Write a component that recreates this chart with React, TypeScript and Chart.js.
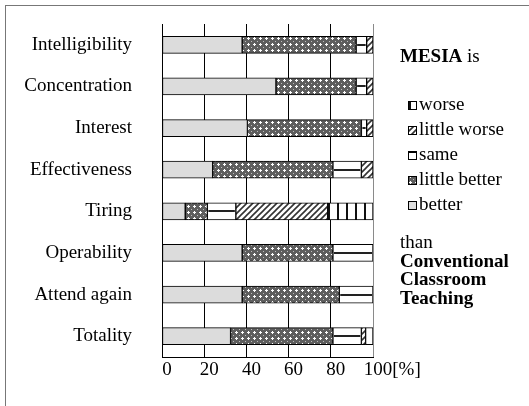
import React, { useEffect, useRef } from 'react';
import { Chart, registerables } from 'chart.js';

Chart.register(...registerables);

const categories = ['Intelligibility', 'Concentration', 'Interest', 'Effectiveness', 'Tiring', 'Operability', 'Attend again', 'Totality'];
const better = [38, 54, 40.5, 24, 11, 38, 38, 32.5];
const littleBetter = [54, 38, 54, 57, 10.5, 43, 46, 48.5];
const same = [5, 5, 2.5, 13.5, 13.5, 19, 16, 13.5];
const littleWorse = [3, 3, 3, 5.5, 43.5, 0, 0, 2];
const worse = [0, 0, 0, 0, 21.5, 0, 0, 3.5];
const seriesNames = ['better', 'little better', 'same', 'little worse', 'worse'];
const xTickValues = [0, 20, 40, 60, 80, 100];
const xUnit = '[%]';
const titleBold = 'MESIA';
const titleRest = ' is';
const footerNormal = 'than';
const footerBold = ['Conventional', 'Classroom', 'Teaching'];

const FONT = '"Liberation Serif", "Times New Roman", Times, serif';

function tile(w: number, h: number, draw: (c: CanvasRenderingContext2D) => void): CanvasPattern {
  const cv = document.createElement('canvas');
  cv.width = w;
  cv.height = h;
  const c = cv.getContext('2d')!;
  draw(c);
  return c.createPattern(cv, 'repeat')!;
}

export default function App() {
  const ref = useRef<HTMLCanvasElement>(null);

  useEffect(() => {
    const canvas = ref.current!;
    const pCheck = tile(6, 6, (c) => {
      c.fillStyle = '#5e5e5e';
      c.fillRect(0, 0, 6, 6);
      c.fillStyle = '#ffffff';
      c.fillRect(1, 2, 3, 1);
      c.fillRect(2, 1, 1, 3);
      c.fillStyle = '#bdbdbd';
      c.fillRect(5, 5, 1, 1);
    });
    const pDiag = tile(6, 6, (c) => {
      c.fillStyle = '#ffffff';
      c.fillRect(0, 0, 6, 6);
      c.strokeStyle = '#333333';
      c.lineWidth = 1.6;
      c.beginPath();
      c.moveTo(-1, 7);
      c.lineTo(7, -1);
      c.moveTo(-4, 4);
      c.lineTo(4, -4);
      c.moveTo(2, 10);
      c.lineTo(10, 2);
      c.stroke();
    });
    const pVert = tile(9, 9, (c) => {
      c.fillStyle = '#ffffff';
      c.fillRect(0, 0, 9, 9);
      c.fillStyle = '#111111';
      c.fillRect(4, 0, 2, 9);
    });
    const fills: (string | CanvasPattern)[] = ['#dcdcdc', pCheck, '#ffffff', pDiag, pVert];
    const values = [better, littleBetter, same, littleWorse, worse];

    const sameLine = {
      id: 'sameLine',
      afterDatasetsDraw(chart: any) {
        const ctx = chart.ctx;
        const meta = chart.getDatasetMeta(2);
        ctx.save();
        ctx.strokeStyle = '#222';
        ctx.lineWidth = 2;
        meta.data.forEach((bar: any) => {
          const p = bar.getProps(['x', 'y', 'base'], true);
          if (Math.abs(p.x - p.base) < 1) return;
          ctx.beginPath();
          ctx.moveTo(Math.min(p.x, p.base) + 1, Math.round(p.y));
          ctx.lineTo(Math.max(p.x, p.base) - 1, Math.round(p.y));
          ctx.stroke();
        });
        ctx.restore();
      },
    };

    const sideLegend = {
      id: 'sideLegend',
      afterDraw(chart: any) {
        const ctx = chart.ctx;
        const ca = chart.chartArea;
        ctx.save();
        ctx.fillStyle = '#000';
        ctx.textBaseline = 'middle';
        ctx.textAlign = 'left';
        const tx = ca.right + 27;
        ctx.font = `bold 19px ${FONT}`;
        ctx.fillText(titleBold, tx, ca.top + 33);
        const w = ctx.measureText(titleBold).width;
        ctx.font = `19px ${FONT}`;
        ctx.fillText(titleRest, tx + w, ca.top + 33);
        for (let i = 0; i < seriesNames.length; i++) {
          const di = seriesNames.length - 1 - i;
          const y = ca.top + 81 + i * 25;
          const bx = ca.right + 35;
          ctx.fillStyle = fills[di] as any;
          ctx.fillRect(bx, y - 4, 9, 9);
          ctx.strokeStyle = '#000';
          ctx.lineWidth = 1;
          ctx.strokeRect(bx + 0.5, y - 3.5, 8, 8);
          if (di === 2) {
            ctx.beginPath();
            ctx.moveTo(bx, y - 2.5);
            ctx.lineTo(bx + 9, y - 2.5);
            ctx.stroke();
          }
          ctx.fillStyle = '#000';
          ctx.font = `19px ${FONT}`;
          ctx.fillText(seriesNames[di], ca.right + 46, y);
        }
        ctx.font = `19px ${FONT}`;
        ctx.fillText(footerNormal, tx, ca.top + 219);
        ctx.font = `bold 19px ${FONT}`;
        footerBold.forEach((t, i) => ctx.fillText(t, tx, ca.top + 238 + i * 18.5));
        ctx.restore();
      },
    };

    const chart = new Chart(canvas, {
      type: 'bar',
      data: {
        labels: categories,
        datasets: values.map((v, i) => ({
          label: seriesNames[i],
          data: v,
          backgroundColor: fills[i] as any,
          borderColor: '#000',
          borderWidth: 1,
          borderSkipped: false,
          barThickness: 17,
        })),
      },
      options: {
        indexAxis: 'y',
        responsive: false,
        animation: false,
        devicePixelRatio: 1,
        layout: { padding: { top: 24, right: 156, left: 0, bottom: 0 } },
        plugins: { legend: { display: false }, tooltip: { enabled: false } },
        scales: {
          x: {
            stacked: true,
            min: 0,
            max: 100,
            afterBuildTicks: (scale: any) => {
              scale.ticks = xTickValues.map((v) => ({ value: v }));
            },
            afterFit: (scale: any) => {
              scale.height = 49;
              scale.paddingLeft = 0;
              scale.paddingRight = 0;
              scale.paddingTop = 0;
              scale.paddingBottom = 0;
            },
            grid: {
              drawTicks: false,
              color: (c: any) => (c.tick && c.tick.value === 100 ? '#8a8a8a' : '#000'),
              lineWidth: 1,
            },
            border: { display: true, color: '#000', width: 1 },
            ticks: {
              color: '#000',
              padding: 2,
              labelOffset: 5,
              maxRotation: 0,
              autoSkip: false,
              font: { family: FONT, size: 19 },
              callback: (v: any) => (Number(v) === 100 ? '      ' + v + xUnit : String(v)),
            },
          },
          y: {
            stacked: true,
            afterFit: (scale: any) => {
              scale.width = 162;
              scale.paddingLeft = 0;
              scale.paddingRight = 0;
              scale.paddingTop = 0;
              scale.paddingBottom = 0;
            },
            grid: { display: false, drawTicks: false },
            border: { display: true, color: '#000', width: 1 },
            ticks: {
              color: '#000',
              padding: 30,
              font: { family: FONT, size: 19 },
            },
          },
        },
      },
      plugins: [sameLine, sideLegend],
    });
    return () => chart.destroy();
  }, []);

  return (
    <div style={{ position: 'fixed', left: 0, top: 0, width: 529, height: 406, background: '#fff', overflow: 'hidden' }}>
      <div
        style={{
          position: 'absolute',
          left: 5,
          top: 5,
          width: 600,
          height: 500,
          borderLeft: '1px solid #777',
          borderTop: '1px solid #777',
        }}
      />
      <canvas ref={ref} width={529} height={406} style={{ position: 'absolute', left: 0, top: 0 }} />
    </div>
  );
}
